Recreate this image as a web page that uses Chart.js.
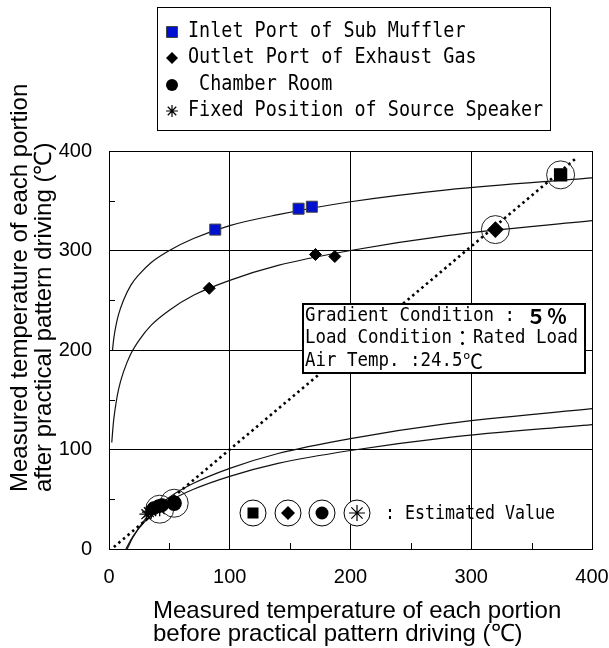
<!DOCTYPE html>
<html>
<head>
<meta charset="utf-8">
<script src="https://cdn.jsdelivr.net/npm/chart.js@4.4.1/dist/chart.umd.min.js"></script>
<style>
body { margin: 0; background: #fff; }
canvas { display: block; }
</style>
</head>
<body>
<canvas id="grafico" width="609" height="648"></canvas>
<script>
// Valores
const inletX = [88, 157, 168];
const inletY = [321, 342, 344];
const outletX = [83, 171, 187];
const outletY = [262, 296, 294];
const chamberX = [37, 41, 44];
const chamberY = [41, 43, 44];
const speakerX = [31, 33, 35];
const speakerY = [35, 37, 38];

// Valores estimados (circulados)
const estX = [374, 320, 54, 42];
const estY = [376, 321, 46, 40];
const estStyle = ['rect', 'rectRot', 'circle', 'star'];

// Curvas de tendência
const inletCurveX = [2.9, 4, 6, 8, 12, 18, 25, 35, 50, 70, 100, 140, 200, 280, 400];
const inletCurveY = [200, 212, 226, 236, 250, 265, 276, 288, 300, 312, 325, 336, 349, 361, 373];
const outletCurveX = [2.3, 3, 4, 6, 8, 12, 18, 25, 35, 50, 70, 100, 140, 200, 280, 400];
const outletCurveY = [107, 118, 131, 148, 161, 178, 196, 210, 225, 240, 255, 270, 285, 300, 315, 330];
const chamberCurveX = [15, 20, 30, 40, 50, 70, 100, 140, 200, 280, 400];
const chamberCurveY = [0, 12, 30, 42, 52, 66, 81, 96, 111, 126, 141];
const speakerCurveX = [14, 20, 30, 40, 50, 70, 100, 140, 200, 280, 400];
const speakerCurveY = [0, 13, 28, 39, 48, 60, 73, 86, 99, 112, 125];
const diagX = [4, 388];
const diagY = [2, 394];

const xTicks = [0, 100, 200, 300, 400];
const yTicks = [0, 100, 200, 300, 400];

const legendLabels = ['Inlet Port of Sub Muffler', 'Outlet Port of Exhaust Gas', ' Chamber Room', 'Fixed Position of Source Speaker'];
const boxLines = ['Gradient Condition : ５％', 'Load Condition：Rated Load', 'Air Temp. :24.5℃'];

const pts = (xs, ys) => xs.map((x, i) => ({ x: x, y: ys[i] }));

function curva(xs, ys) {
    return {
        data: pts(xs, ys), showLine: true, pointRadius: 0,
        borderColor: '#111', borderWidth: 1.2, cubicInterpolationMode: 'monotone'
    };
}

// Texto no estilo gótico monoespaçado
function gothic(ctx, text, x, y, cell, size, boldFull) {
    let cx = x;
    ctx.textAlign = 'center';
    ctx.textBaseline = 'middle';
    ctx.fillStyle = '#000';
    for (const ch of text) {
        const full = ch.charCodeAt(0) > 0xff;
        const w = full ? cell * 2 : cell;
        ctx.save();
        ctx.font = full ? (boldFull ? 'bold ' : '') + size + 'px "Noto Sans CJK JP"' : size + 'px "DejaVu Sans Mono"';
        const mw = ctx.measureText(ch).width || 1;
        ctx.translate(cx + w / 2, y);
        if (!full) ctx.scale(cell / mw, 1);
        else if (mw > w) ctx.scale(w / mw, 1);
        ctx.fillText(ch, 0, 0);
        ctx.restore();
        cx += w;
    }
}

function marcador(ctx, kind, x, y, s, fill) {
    ctx.save();
    ctx.fillStyle = fill || '#000';
    ctx.strokeStyle = '#000';
    ctx.beginPath();
    if (kind === 'rect') {
        ctx.rect(x - s, y - s, 2 * s, 2 * s);
        ctx.fill();
        if (fill) { ctx.strokeStyle = '#444'; ctx.lineWidth = 1; ctx.stroke(); }
    } else if (kind === 'rectRot') {
        ctx.moveTo(x, y - s); ctx.lineTo(x + s, y); ctx.lineTo(x, y + s); ctx.lineTo(x - s, y);
        ctx.closePath(); ctx.fill();
    } else if (kind === 'circle') {
        ctx.arc(x, y, s, 0, Math.PI * 2); ctx.fill();
    } else {
        ctx.lineWidth = 1.2;
        for (let i = 0; i < 4; i++) {
            const a = i * Math.PI / 4;
            ctx.moveTo(x - s * Math.cos(a), y - s * Math.sin(a));
            ctx.lineTo(x + s * Math.cos(a), y + s * Math.sin(a));
        }
        ctx.stroke();
    }
    ctx.restore();
}

const extras = {
    id: 'extras',
    afterDraw(chart) {
        const ctx = chart.ctx;
        const sx = chart.scales.x, sy = chart.scales.y;
        ctx.save();

        // marcas menores internas
        ctx.strokeStyle = '#000';
        ctx.lineWidth = 1;
        ctx.beginPath();
        for (let v = 50; v < 400; v += 100) {
            const px = Math.round(sx.getPixelForValue(v)) + 0.5;
            ctx.moveTo(px, sy.bottom); ctx.lineTo(px, sy.bottom - 6);
            const py = Math.round(sy.getPixelForValue(v)) + 0.5;
            ctx.moveTo(sx.left, py); ctx.lineTo(sx.left + 6, py);
        }
        ctx.stroke();

        // títulos dos eixos
        ctx.font = '24px "Liberation Sans", Arial';
        ctx.fillStyle = '#000';
        ctx.textAlign = 'left';
        ctx.textBaseline = 'alphabetic';
        ctx.fillText('Measured temperature of each portion', 153, 618);
        ctx.fillText('before practical pattern driving (℃)', 153, 641);
        ctx.save();
        ctx.translate(0, 492);
        ctx.rotate(-Math.PI / 2);
        ctx.fillText('Measured temperature of each portion', 0, 27);
        ctx.fillText('after practical pattern driving (℃)', 0, 51);
        ctx.restore();

        // legenda
        ctx.lineWidth = 1;
        ctx.strokeStyle = '#000';
        ctx.strokeRect(157.5, 7.5, 393, 123);
        const rowY = [32, 58, 85, 111];
        marcador(ctx, 'rect', 172, rowY[0], 5.5, '#0010d0');
        marcador(ctx, 'rectRot', 172, rowY[1], 6);
        marcador(ctx, 'circle', 172, rowY[2], 6);
        marcador(ctx, 'star', 172, rowY[3], 6);
        legendLabels.forEach((t, i) => gothic(ctx, t, 188, rowY[i], 11.1, 21));

        // caixa de condições
        ctx.fillStyle = '#fff';
        ctx.fillRect(303, 304, 282, 69);
        ctx.lineWidth = 2;
        ctx.strokeRect(303, 304, 282, 69);
        const lineY = [316, 338, 361];
        boxLines.forEach((t, i) => gothic(ctx, t, 305, lineY[i], 10.5, 20, i === 0));

        // linha de valores estimados
        const symX = [253, 288, 322, 357];
        estStyle.forEach((k, i) => {
            ctx.beginPath();
            ctx.arc(symX[i], 513, 13, 0, Math.PI * 2);
            ctx.fillStyle = '#fff';
            ctx.fill();
            ctx.lineWidth = 1;
            ctx.strokeStyle = '#000';
            ctx.stroke();
            const s = [5.5, 7, 6.5, 8][i];
            marcador(ctx, k, symX[i], 513, s);
        });
        gothic(ctx, ': Estimated Value', 385, 514, 10, 19);

        ctx.restore();
    }
};

new Chart(document.getElementById('grafico'), {
    type: 'scatter',
    data: {
        datasets: [
            {
                data: pts(inletX, inletY), pointStyle: 'rect', pointRadius: 7.8,
                backgroundColor: '#0010d0', borderColor: '#444', borderWidth: 1
            },
            {
                data: pts(outletX, outletY), pointStyle: 'rectRot', pointRadius: 6,
                backgroundColor: '#000', borderColor: '#000'
            },
            {
                data: pts(chamberX, chamberY), pointStyle: 'circle', pointRadius: 6.5,
                backgroundColor: '#000', borderColor: '#000'
            },
            {
                data: pts(speakerX, speakerY), pointStyle: 'star', pointRadius: 7,
                borderColor: '#000', borderWidth: 1.3
            },
            {
                data: pts(estX, estY), pointStyle: estStyle, pointRadius: [8.5, 7.5, 7, 7],
                backgroundColor: '#000', borderColor: '#000', borderWidth: 1.3
            },
            {
                data: pts(estX, estY), pointStyle: 'circle', pointRadius: 14,
                backgroundColor: 'rgba(0,0,0,0)', borderColor: '#222', borderWidth: 1
            },
            {
                data: pts(diagX, diagY), showLine: true, pointRadius: 0,
                borderColor: '#000', borderWidth: 2.6, borderDash: [2.5, 3.5]
            },
            curva(inletCurveX, inletCurveY),
            curva(outletCurveX, outletCurveY),
            curva(chamberCurveX, chamberCurveY),
            curva(speakerCurveX, speakerCurveY)
        ]
    },
    options: {
        responsive: false,
        animation: false,
        layout: { padding: { top: 151, right: 0, left: 0, bottom: 0 } },
        plugins: { legend: { display: false }, tooltip: { enabled: false } },
        scales: {
            x: {
                min: 0, max: 400,
                afterFit: s => { s.height = 99; s.paddingRight = 17; s.paddingLeft = 0; },
                afterBuildTicks: s => { s.ticks = xTicks.map(v => ({ value: v })); },
                grid: { color: '#000', lineWidth: 1, drawTicks: false },
                border: { color: '#000', width: 1 },
                ticks: { color: '#000', padding: 16, font: { family: '"Liberation Sans", Arial', size: 20 } }
            },
            y: {
                min: 0, max: 400,
                afterFit: s => { s.width = 109; s.paddingTop = 0; s.paddingBottom = 0; },
                afterBuildTicks: s => { s.ticks = yTicks.map(v => ({ value: v })); },
                grid: { color: '#000', lineWidth: 1, drawTicks: false },
                border: { color: '#000', width: 1 },
                ticks: { color: '#000', padding: 17, font: { family: '"Liberation Sans", Arial', size: 20 } }
            }
        }
    },
    plugins: [extras]
});
</script>
</body>
</html>
